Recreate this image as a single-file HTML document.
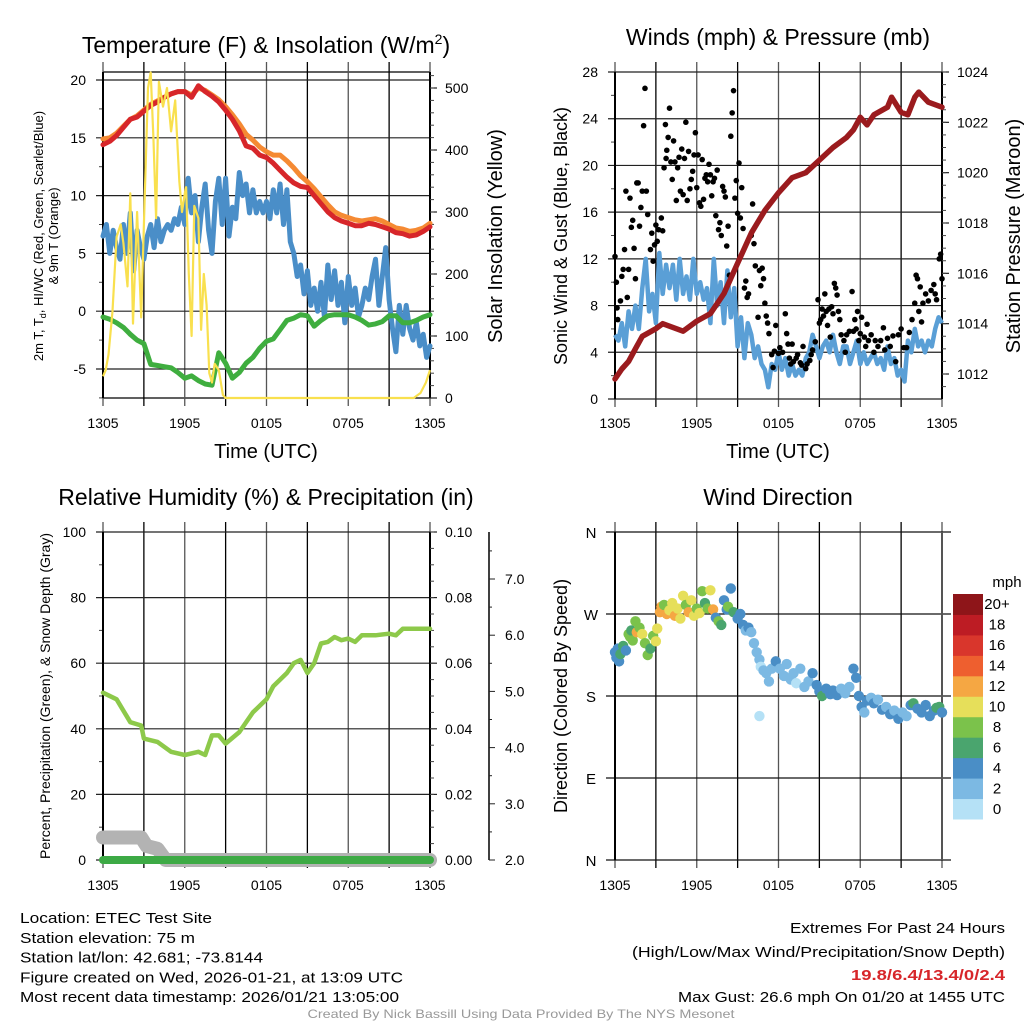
<!DOCTYPE html>
<html><head><meta charset="utf-8"><style>
html,body{margin:0;padding:0;background:#fff;}
svg{display:block;font-family:"Liberation Sans",Arial,sans-serif;}
</style></head><body>
<svg id="fig" width="1024" height="1024" viewBox="0 0 1024 1024" xmlns="http://www.w3.org/2000/svg"></svg>
<script>
// ---------- DATA ----------
const tHalf = Array.from({length:49},(_, i)=>i*0.5);
const tQuarter = Array.from({length:97},(_, i)=>i*0.25);
const timeTickLabels = ["1305","1905","0105","0705","1305"];
const tempRed = [14.4,14.7,15.2,15.9,16.6,16.8,17.3,17.8,18.1,18.5,18.8,19.0,19.0,18.5,19.5,19.0,18.6,18.1,17.4,16.6,15.6,14.3,14.1,13.5,13.3,12.8,12.2,11.6,11.1,10.8,10.7,10.0,9.3,8.6,8.1,7.8,7.6,7.4,7.4,7.6,7.5,7.3,7.1,6.8,6.7,6.5,6.6,6.9,7.3];
const temp9mOrange = [14.9,15.0,15.4,16.0,16.6,16.9,17.4,17.9,18.2,18.5,18.8,19.0,19.0,18.7,19.3,19.1,18.7,18.3,17.7,17.0,16.2,15.3,14.8,14.2,13.8,13.5,13.5,13.0,12.4,11.7,11.2,10.6,9.9,9.2,8.6,8.3,8.1,7.9,7.8,7.9,8.0,7.8,7.5,7.2,7.1,6.9,7.0,7.2,7.6];
const dewGreen = [-0.5,-0.7,-1.0,-1.4,-2.0,-2.5,-2.8,-4.6,-4.7,-4.8,-4.9,-5.3,-5.8,-5.6,-6.0,-6.3,-6.4,-3.6,-4.5,-5.8,-5.3,-4.5,-4.0,-3.2,-2.6,-2.4,-1.6,-0.8,-0.6,-0.3,-0.4,-1.3,-0.8,-0.4,-0.3,-0.3,-0.3,-0.5,-0.8,-1.2,-1.1,-0.9,-0.4,-0.4,-1.0,-1.0,-0.8,-0.5,-0.3];
const hiwcBlue = [6.5,7.5,5.0,7.0,5.5,4.5,7.5,5.0,8.5,3.5,7.0,5.5,4.5,6.5,7.5,5.5,8.0,6.0,7.0,7.5,7.0,8.0,7.5,9.0,7.5,11.5,8.5,10.0,6.0,9.0,11.0,7.0,5.0,9.5,11.5,7.5,11.5,6.5,9.0,8.0,12.0,10.0,11.0,8.5,10.5,8.5,9.5,8.5,9.5,8.0,10.5,8.5,11.0,7.5,10.5,6.0,5.0,3.0,4.0,1.5,3.5,0.5,2.0,0.0,2.5,-0.5,4.0,1.0,3.5,0.5,2.5,-1.0,3.0,0.5,2.0,-0.5,0.5,2.0,1.0,3.0,4.5,0.5,3.0,5.5,1.0,-1.5,-3.5,0.5,-2.0,0.5,-1.5,-2.5,-1.0,-3.0,-2.0,-4.0,-3.0];
const solarTimes = [0,0.2,0.4,0.7,1.0,1.3,1.5,1.8,2.0,2.2,2.5,2.8,3.0,3.3,3.5,3.7,3.9,4.1,4.4,4.7,5.0,5.3,5.6,5.8,6.0,6.1,6.3,6.5,6.7,7.0,7.2,7.4,7.6,7.8,8.0,8.2,8.5,8.8,9.0,12,16,20,22.8,23.3,23.7,24];
const solarVals = [35,45,70,140,260,280,250,180,330,120,300,130,280,500,525,420,290,510,470,500,430,480,350,300,330,340,200,100,310,290,110,200,150,40,25,55,45,5,0,0,0,0,0,8,25,45];
const windSust = [5.5,5.0,6.5,4.5,7.5,6.0,8.0,6.0,9.5,12.0,7.5,9.0,6.5,12.5,9.0,11.5,9.5,11.5,8.5,12.0,9.0,10.5,8.5,12.0,9.0,10.0,8.5,9.5,6.5,12.0,8.0,10.0,6.5,11.0,7.0,9.5,4.5,7.0,3.5,6.5,5.5,3.5,4.5,3.0,2.5,1.0,3.0,2.5,4.0,2.5,3.5,2.0,3.0,2.0,2.5,2.0,3.5,4.0,5.5,4.5,3.5,4.5,5.0,4.0,5.5,4.0,3.0,4.5,4.5,3.0,4.0,5.0,3.0,4.0,3.0,3.5,4.0,3.0,3.5,2.5,4.5,3.0,3.5,2.0,2.5,1.5,5.0,4.0,6.0,4.5,5.0,4.0,5.0,4.5,6.0,7.0,6.5];
const gustTimes = [0.0,0.1,0.15,0.2,0.4,0.5,0.6,0.7,0.8,0.9,1.0,1.1,1.2,1.3,1.4,1.5,1.6,1.7,1.8,1.9,2.0,2.1,2.2,2.3,2.4,2.6,2.7,2.8,2.9,3.0,3.1,3.2,3.4,3.5,3.6,3.7,3.75,3.8,3.9,4.0,4.1,4.2,4.3,4.4,4.5,4.6,4.7,4.8,4.9,5.0,5.1,5.2,5.3,5.4,5.5,5.6,5.7,5.8,5.9,6.0,6.1,6.2,6.3,6.4,6.5,6.6,6.7,6.8,6.9,7.0,7.1,7.2,7.3,7.4,7.5,7.6,7.7,7.8,7.9,8.0,8.1,8.2,8.3,8.4,8.5,8.6,8.7,8.8,8.9,9.0,9.1,9.2,9.3,9.4,9.5,9.6,9.7,9.8,10.0,10.1,10.2,10.3,10.5,10.6,10.7,10.8,10.9,11.0,11.1,11.2,11.3,11.5,11.6,11.7,11.8,12.0,12.1,12.3,12.5,12.6,12.7,12.8,12.9,13.0,13.1,13.3,13.4,13.6,13.7,13.8,14.0,14.1,14.3,14.4,14.5,14.7,14.9,15.0,15.1,15.2,15.3,15.4,15.5,15.6,15.7,15.8,15.9,16.0,16.1,16.2,16.3,16.4,16.5,16.6,16.8,16.9,17.0,17.2,17.4,17.5,17.6,17.7,17.8,17.9,18.0,18.1,18.3,18.4,18.5,18.6,18.8,19.0,19.1,19.3,19.5,19.7,19.8,20.0,20.2,20.4,20.6,20.8,21.0,21.2,21.4,21.6,21.8,22.0,22.1,22.2,22.3,22.4,22.5,22.6,22.8,23.0,23.2,23.4,23.5,23.6,23.8,23.9,24.0];
const gustVals = [12.2,10,7.8,6.8,8.4,10.5,11.1,12.8,17.8,8.7,11.1,17.2,14.7,15.3,12.9,10.3,18.5,18.5,14.8,16.4,17.8,23.4,26.6,17.8,15.8,12.8,14.2,11.8,13.2,14.9,13.5,14.5,15.5,14.4,19.8,23.5,20.6,21.3,22.4,24.9,20.3,18.8,22.1,20.3,17.0,19.8,20.7,17.8,21.4,17.5,20.6,23.7,17.0,21.2,18.0,18.8,19.5,20.9,22.8,18.1,20.9,16.8,16.5,20.5,17.1,18.9,19.2,18.6,20.1,19.2,17.4,18.6,18.9,15.7,19.6,14.5,15.1,14.0,18.2,17.8,17.3,13.1,14.8,10.6,22.5,24.5,26.4,17.2,18.7,15.9,20.2,15.5,18.1,14.6,9.5,10.1,8.7,9.0,14.0,16.7,13.3,11.4,7.0,11.0,9.7,11.2,10.3,8.2,7.1,6.5,5.6,3.8,2.7,4.1,6.3,3.9,4.4,4.0,7.3,5.6,4.7,3.5,3.0,4.7,3.2,3.5,3.8,3.1,2.9,4.5,2.6,3.0,3.3,3.8,4.2,4.9,8.5,6.5,6.8,7.7,7.1,9.0,7.5,6.3,7.7,5.3,7.9,7.3,9.9,9.5,8.9,7.5,6.8,5.5,5.0,4.0,5.5,5.8,9.2,5.8,6.8,6.0,7.5,5.0,5.6,7.0,5.3,4.5,6.4,5.0,5.5,4.0,5.0,4.5,5.0,6.1,4.2,5.2,4.5,5.4,3.2,5.5,6.0,4.4,4.4,5.7,6.8,8.2,10.6,10.3,7.5,9.6,6.6,8.2,9.0,8.4,9.3,9.8,9.0,8.5,12.0,12.4,10.3];
const presTimes = [0,0.5,1,1.5,2,3,3.5,4,5,6,7,8,9,10,11,12,13,14,15,16,17,17.5,18,18.5,19,20,20.3,21,21.5,22,22.3,23,24];
const presVals = [1011.8,1012.2,1012.5,1013.0,1013.5,1013.8,1014.0,1013.9,1013.7,1014.1,1014.4,1015.2,1016.4,1017.6,1018.5,1019.2,1019.8,1020.0,1020.5,1021.0,1021.4,1021.7,1022.2,1021.9,1022.3,1022.6,1023.0,1022.4,1022.3,1023.0,1023.2,1022.8,1022.6];
const rhTimes = [0,1,2,2.8,3,4,5,6,7,7.5,8,8.5,9,10,11,12,12.5,13,13.5,14,14.5,15,15.5,16,16.5,17,17.5,18,18.5,19,20,21,21.5,22,23,24];
const rhVals = [51,49,42,41,37,36,33,32,33,32,38,38,35.5,39,45,49,53,55,57,60,61,57,60,66,66.5,68,67,67.5,66.5,68.5,68.5,69,68.5,70.5,70.5,70.5];
const snowTimes = [0,2.8,3.2,4.0,4.6,24];
const snowVals = [2.4,2.4,2.25,2.2,2.0,2.0];
const precipTimes = [0,24];
const precipVals = [0,0];
const dirTimes = [0.0,0.1,0.2,0.3,0.4,0.6,0.8,1.0,1.1,1.2,1.3,1.5,1.6,1.8,2.0,2.2,2.4,2.6,2.8,3.0,3.1,3.3,3.4,3.6,3.8,4.0,4.2,4.4,4.6,4.8,5.0,5.2,5.4,5.6,5.8,6.0,6.2,6.4,6.6,6.8,7.0,7.2,7.4,7.6,7.8,8.0,8.2,8.3,8.5,8.7,9.0,9.2,9.4,9.6,9.8,10.0,10.2,10.4,10.6,10.6,10.7,10.9,11.1,11.3,11.5,11.8,12.1,12.4,12.6,12.9,13.1,13.3,13.6,13.9,14.2,14.5,14.8,15.0,15.2,15.5,15.8,16.0,16.3,16.6,16.9,17.2,17.5,17.7,17.9,18.1,18.3,18.5,18.8,19.0,19.3,19.6,19.9,20.2,20.5,20.8,21.1,21.4,21.7,21.9,22.2,22.5,22.8,23.1,23.4,23.6,23.8,24.0];
const dirVals = [228,222,232,218,226,235,230,248,245,252,241,262,250,255,248,238,225,232,246,240,254,272,278,280,270,274,282,268,276,265,290,280,272,285,268,276,271,295,282,276,296,275,266,262,258,285,275,278,298,272,265,270,258,252,255,250,238,228,220,158,212,208,205,196,210,218,210,202,215,198,205,194,210,190,196,205,192,185,180,188,182,186,181,188,183,190,210,200,180,168,162,175,178,172,176,165,168,160,164,155,162,158,170,172,166,162,170,158,164,167,168,162];
const dirSpeeds = [4,4,4,4,6,6,4,8,8,6,8,8,12,8,10,8,8,6,8,10,10,12,12,8,12,10,10,12,10,10,10,8,12,10,10,8,10,8,6,8,10,12,4,8,6,4,4,8,4,6,4,4,4,2,4,2,2,2,2,0,0,2,2,2,2,4,2,2,2,2,2,0,2,2,2,4,4,4,6,4,4,4,4,2,2,2,4,4,4,4,2,4,2,4,2,4,2,4,2,4,2,2,4,6,4,4,4,4,4,6,6,4];
const speedBinLabels = ["0","2","4","6","8","10","12","14","16","18","20+"];
const speedBinColors = ["#b5e1f6","#7cb9e3","#4a8ec6","#4aa56e","#7bc24b","#e6df5a","#f5a743","#ee5f2f","#d9362c","#bd1c24","#8e1519"];

// ---------- HELPERS ----------
const NS="http://www.w3.org/2000/svg";
const svg=document.getElementById('fig');
function el(tag,attrs,parent){const e=document.createElementNS(NS,tag);for(const k in attrs)e.setAttribute(k,attrs[k]);(parent||svg).appendChild(e);return e;}
function lin(d0,d1,r0,r1){return v=>r0+(v-d0)*(r1-r0)/(d1-d0);}
function txt(x,y,s,size,anchor,parent,extra){const e=el('text',Object.assign({x:x,y:y,'font-size':size,'text-anchor':anchor||'middle',fill:'#000'},extra||{}),parent);e.textContent=s;return e;}
function pathD(xs,ys,fx,fy){return xs.map((t,i)=>(i?'L':'M')+fx(t).toFixed(1)+','+fy(ys[i]).toFixed(1)).join('');}
function range(a,b,s){const r=[];const n=Math.round((b-a)/s);for(let i=0;i<=n;i++)r.push(+(a+i*s).toFixed(4));return r;}

function frame(g,x0,x1,y0,y1,fx,leftTicks,leftMinor,fyL,leftFmt,rightTicks,rightMinor,fyR,rightFmt,xLabY){
  const grid=el('g',{},g);
  
  
  for(let h=0;h<=24;h+=3){const x=fx(h);el('line',{x1:x,x2:x,y1:y0-10,y2:y1+8,stroke:(h%6==3)?'#000':'#555','stroke-width':1.3},grid);}
  leftTicks.forEach(v=>{const y=fyL(v);el('line',{x1:x0-7,x2:x1+(rightTicks?0:7),y1:y,y2:y,stroke:'#222','stroke-width':1.2},grid);});
  leftMinor.forEach(v=>{const y=fyL(v);el('line',{x1:x0-4,x2:x0,y1:y,y2:y,stroke:'#444','stroke-width':1},grid);});
  el('line',{x1:x0,x2:x0,y1:y0,y2:y1,stroke:'#000','stroke-width':2},grid);
  el('line',{x1:x1,x2:x1,y1:y0,y2:y1,stroke:'#000','stroke-width':2},grid);
  const ll=el('g',{},g);
  
  
  leftTicks.forEach(v=>txt(x0-17,fyL(v)+5,leftFmt(v),14,'end',ll));
  if(rightTicks){
    const rl=el('g',{},g);
    
    
    rightTicks.forEach(v=>{const y=fyR(v);el('line',{x1:x1,x2:x1+7,y1:y,y2:y,stroke:'#222','stroke-width':1.2},rl);txt(x1+15,y+5,rightFmt(v),14,'start',rl);});
    rightMinor.forEach(v=>{const y=fyR(v);el('line',{x1:x1,x2:x1+4,y1:y,y2:y,stroke:'#444','stroke-width':1},rl);});
  }
  const xl=el('g',{},g);
  
  
  timeTickLabels.forEach((s,i)=>txt(fx(i*6),xLabY,s,14,'middle',xl));
}

// ---------- PANEL 1: Temperature ----------
{
const g=el('g',{});


const fx=lin(0,24,103,430), fy=lin(20,-5,80,369), fyR=lin(0,500,398,88);
el('line',{x1:103,x2:430,y1:72,y2:72,stroke:'#000','stroke-width':1.3},g);
el('line',{x1:103,x2:430,y1:398,y2:398,stroke:'#000','stroke-width':1.3},g);
frame(g,103,430,72,398,fx,[20,15,10,5,0,-5],[17.5,12.5,7.5,2.5,-2.5,-7.5],fy,v=>String(v),[0,100,200,300,400,500],range(20,520,20),fyR,v=>String(v),428);
const s1=el('path',{d:pathD(tQuarter,hiwcBlue,fx,fy),fill:'none',stroke:'#4a8ec8','stroke-width':5,'stroke-linejoin':'round','stroke-linecap':'round'},g);


const s2=el('path',{d:pathD(tHalf,dewGreen,fx,fy),fill:'none',stroke:'#3fae3f','stroke-width':5,'stroke-linejoin':'round','stroke-linecap':'round'},g);


const s3=el('path',{d:pathD(tHalf,temp9mOrange,fx,fy),fill:'none',stroke:'#f58a33','stroke-width':5,'stroke-linejoin':'round','stroke-linecap':'round'},g);


const s4=el('path',{d:pathD(tHalf,tempRed,fx,fy),fill:'none',stroke:'#d7262a','stroke-width':5,'stroke-linejoin':'round','stroke-linecap':'round'},g);


const s5=el('path',{d:pathD(solarTimes,solarVals,fx,fyR),fill:'none',stroke:'#f9e04e','stroke-width':2.2,'stroke-linejoin':'round'},g);


const t=txt(266,53,'Temperature (F) & Insolation (W/m',23,'middle',g);
const sup=el('tspan',{dy:-9,'font-size':14},t);sup.textContent='2';
const cl=el('tspan',{dy:9},t);cl.textContent=')';


const xt=txt(266,458,'Time (UTC)',20,'middle',g);


const yt=el('text',{transform:'translate(43,236) rotate(-90)','font-size':13,'text-anchor':'middle'},g);
const l1=el('tspan',{x:0,dy:0},yt);l1.textContent='2m T, T';
const sb=el('tspan',{dy:3,'font-size':9},yt);sb.textContent='d';
const l1b=el('tspan',{dy:-3},yt);l1b.textContent=', HI/WC (Red, Green, Scarlet/Blue)';
const l2=el('tspan',{x:0,dy:15},yt);l2.textContent='& 9m T (Orange)';


const rt=txt(0,0,'Solar Insolation (Yellow)',20,'middle',g,{transform:'translate(502,236) rotate(-90)'});


}

// ---------- PANEL 2: Winds ----------
{
const g=el('g',{});


const fx=lin(0,24,615,942), fy=lin(0,28,399,72), fyR=lin(1012,1024,374,72);
frame(g,615,942,72,399,fx,range(0,28,4),range(2,26,4),fy,v=>String(v),range(1012,1024,2),range(1011.5,1024,0.5),fyR,v=>String(v),428);
const w=el('path',{d:pathD(tQuarter,windSust,fx,fy),fill:'none',stroke:'#5a9fd6','stroke-width':4.5,'stroke-linejoin':'round'},g);


const gg=el('g',{},g);


gustTimes.forEach((t,i)=>{const c=el('circle',{cx:fx(t),cy:fy(gustVals[i]),r:2.8,fill:'#000'},gg);

});
const p=el('path',{d:pathD(presTimes,presVals,fx,fyR),fill:'none',stroke:'#9b1b1e','stroke-width':5.5,'stroke-linejoin':'round','stroke-linecap':'round'},g);


const t=txt(778,45,'Winds (mph) & Pressure (mb)',23,'middle',g);


const xt=txt(778,458,'Time (UTC)',20,'middle',g);


const yt=txt(0,0,'Sonic Wind & Gust (Blue, Black)',18,'middle',g,{transform:'translate(567,236) rotate(-90)'});


const rt=txt(0,0,'Station Pressure (Maroon)',20,'middle',g,{transform:'translate(1020,236) rotate(-90)'});


}

// ---------- PANEL 3: RH ----------
{
const g=el('g',{});


const fx=lin(0,24,103,430), fy=lin(0,100,860,532), fyR=lin(0,0.1,860,532), fyS=lin(2,7,860,579);
frame(g,103,430,532,860,fx,range(0,100,20),range(10,90,20),fy,v=>String(v),range(0,0.1,0.02),range(0.005,0.1,0.005),fyR,v=>v.toFixed(2),890);
const ax=el('g',{},g);


el('line',{x1:489,x2:489,y1:532,y2:860,stroke:'#000','stroke-width':1.5},ax);
range(2,7.5,0.5).forEach(v=>el('line',{x1:489,x2:(v%1==0)?495:492,y1:fyS(v),y2:fyS(v),stroke:'#222','stroke-width':1},ax));
range(2,7,1).forEach(v=>txt(505,fyS(v)+5,v.toFixed(1),14,'start',ax));
const sn=el('path',{d:pathD(snowTimes,snowVals,fx,fyS),fill:'none',stroke:'#b3b3b3','stroke-width':14,'stroke-linejoin':'round','stroke-linecap':'round'},g);


const pr=el('path',{d:pathD(precipTimes,precipVals,fx,fyR),fill:'none',stroke:'#3daa45','stroke-width':8,'stroke-linecap':'round'},g);


const rh=el('path',{d:pathD(rhTimes,rhVals,fx,fy),fill:'none',stroke:'#8dc94a','stroke-width':4.5,'stroke-linejoin':'round','stroke-linecap':'round'},g);


const t=txt(266,505,'Relative Humidity (%) & Precipitation (in)',23,'middle',g);


const yt=txt(0,0,'Percent, Precipitation (Green), & Snow Depth (Gray)',14,'middle',g,{transform:'translate(50,696) rotate(-90)'});


}

// ---------- PANEL 4: Wind Direction ----------
{
const g=el('g',{});


const fx=lin(0,24,615,942), fy=lin(360,0,532,860);
const grid=el('g',{},g);


for(let h=0;h<=24;h+=3){const x=fx(h);el('line',{x1:x,x2:x,y1:522,y2:868,stroke:(h%6==3)?'#000':'#555','stroke-width':1.3},grid);}
const dirLabels=["N","W","S","E","N"];
const dl=el('g',{},g);


[360,270,180,90,0].forEach((d,i)=>{el('line',{x1:606,x2:951,y1:fy(d),y2:fy(d),stroke:'#111','stroke-width':1.3},grid);txt(591,fy(d)+6,dirLabels[i],15,'middle',dl);});
el('line',{x1:615,x2:615,y1:532,y2:860,stroke:'#000','stroke-width':2},grid);
el('line',{x1:942,x2:942,y1:532,y2:860,stroke:'#555','stroke-width':2},grid);
const xl=el('g',{},g);


timeTickLabels.forEach((s,i)=>txt(fx(i*6),890,s,14,'middle',xl));
const dots=el('g',{},g);


dirTimes.forEach((t,i)=>{const c=el('circle',{cx:fx(t),cy:fy(dirVals[i]),r:5.2,fill:speedBinColors[Math.min(10,Math.round(dirSpeeds[i]/2))]},dots);

});
const t=txt(778,505,'Wind Direction',23,'middle',g);


const yt=txt(0,0,'Direction (Colored By Speed)',18,'middle',g,{transform:'translate(567,696) rotate(-90)'});


const lg=el('g',{},g);


const bh=(819-594)/11;
speedBinColors.forEach((c,i)=>{const y=819-(i+1)*bh;el('rect',{x:953,y:y,width:30,height:bh+0.5,fill:c},lg);txt(997,y+bh/2+5,speedBinLabels[i],15,'middle',lg);});
txt(1007,587,'mph',15,'middle',lg);
}

// ---------- FOOTER TEXT ----------
{
const g=el('g',{});


const lines=[["Location: ETEC Test Site",192],["Station elevation: 75 m",175],["Station lat/lon: 42.681; -73.8144",243],["Figure created on Wed, 2026-01-21, at 13:09 UTC",383],["Most recent data timestamp: 2026/01/21 13:05:00",379]];
lines.forEach((l,i)=>txt(20,923+i*19.8,l[0],15,'start',g,{textLength:l[1],lengthAdjust:'spacingAndGlyphs'}));
const r=el('g',{});


txt(1005,933,'Extremes For Past 24 Hours',15,'end',r,{textLength:215,lengthAdjust:'spacingAndGlyphs'});
txt(1005,957,'(High/Low/Max Wind/Precipitation/Snow Depth)',15,'end',r,{textLength:373,lengthAdjust:'spacingAndGlyphs'});
txt(1005,980,'19.8/6.4/13.4/0/2.4',15,'end',r,{fill:'#d7262a','font-weight':'bold',textLength:154,lengthAdjust:'spacingAndGlyphs'});
txt(1005,1002,'Max Gust: 26.6 mph On 01/20 at 1455 UTC',15,'end',r,{textLength:327,lengthAdjust:'spacingAndGlyphs'});
const c=txt(521,1018,'Created By Nick Bassill Using Data Provided By The NYS Mesonet',12,'middle',svg,{fill:'#999',textLength:427,lengthAdjust:'spacingAndGlyphs'});


}
</script>
</body></html>
